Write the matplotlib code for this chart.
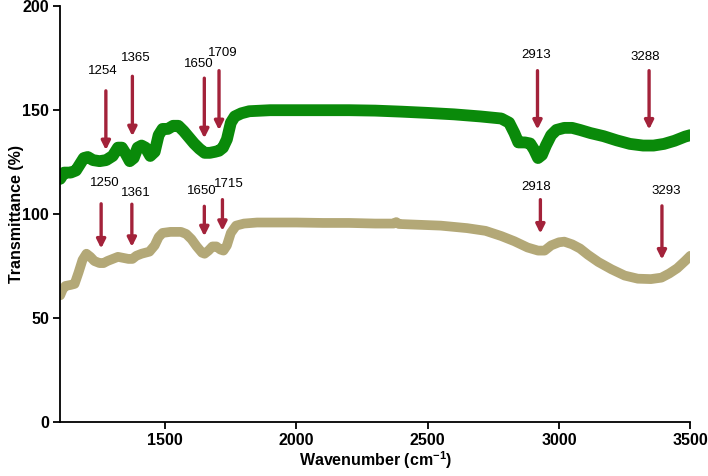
import matplotlib.pyplot as plt

# green spectrum (upper)
green_x = [1100, 1115, 1140, 1160, 1175, 1190, 1205, 1225, 1250, 1275, 1300, 1320, 1335, 1350, 1365,
           1380, 1395, 1410, 1425, 1443, 1460, 1475, 1490, 1510, 1530, 1550, 1570, 1590, 1610, 1630,
           1650, 1670, 1690, 1705, 1720, 1735, 1750, 1765, 1790, 1820, 1900, 2000, 2100, 2200, 2300,
           2400, 2500, 2600, 2700, 2780, 2810, 2830, 2845, 2870, 2890, 2905, 2920, 2935, 2950, 2970,
           2990, 3020, 3050, 3080, 3120, 3170, 3220, 3270, 3320, 3360, 3400, 3440, 3480, 3500]
green_y = [117, 120, 120, 121, 124, 127, 127.5, 126, 125.5, 126, 128, 132, 132, 129, 125.5,
           127, 132, 133, 132, 128, 130, 138, 141, 141, 142.5, 142.5, 140, 137, 134, 131.5,
           129.5, 129.5, 130, 130.5, 132, 136, 144, 147, 148.5, 149.5, 150, 150, 150, 150, 149.8,
           149.3, 148.7, 148, 147, 146, 144, 139, 134.5, 134.5, 134, 131, 127, 128.5, 133, 138,
           140.5, 141.5, 141.5, 140.5, 139, 137.5, 135.5, 133.8, 133, 133, 133.8, 135.3, 137.3, 138]

# khaki spectrum (lower)
khaki_x = [1100, 1110, 1120, 1140, 1155, 1170, 1185, 1200, 1215, 1230, 1250, 1265, 1280, 1300, 1320,
           1340, 1360, 1375, 1390, 1410, 1440, 1460, 1475, 1490, 1520, 1560, 1580, 1600, 1620, 1640,
           1650, 1665, 1680, 1695, 1710, 1722, 1735, 1750, 1770, 1800, 1850, 2000, 2100, 2200, 2300,
           2370, 2380, 2390, 2450, 2550, 2650, 2720, 2780, 2830, 2880, 2920, 2945, 2970, 3000, 3020,
           3050, 3080, 3110, 3150, 3200, 3250, 3300, 3350, 3390, 3420, 3450, 3480, 3500]
khaki_y = [61, 64, 65.5, 66, 66.5, 72, 78, 81, 79.5, 77.5, 76.5, 76.5, 77.5, 78.5, 79.5,
           79, 78.5, 78.5, 80, 81, 82, 85, 89, 91, 91.5, 91.5, 90.5, 88, 84.5, 81.5,
           81, 82.5, 84.5, 84.5, 83, 82.5, 85, 91, 94.5, 95.5, 96, 96, 95.8, 95.8, 95.5,
           95.5, 96.2, 95.3, 95, 94.5, 93.3, 92, 89.5, 87, 84, 82.5, 82.5, 85, 86.5, 86.8,
           85.5, 83.5, 80.5, 77, 73.5, 70.5, 69, 68.8, 69.5, 71.5, 74, 77.5, 80]

# peak labels: text, label x, label y, arrow x, arrow top y, arrow tip y
peak_text = ['1254', '1365', '1650', '1709', '2913', '3288',
             '1250', '1361', '1650', '1715', '2918', '3293']
label_x = [1264, 1388, 1626, 1721, 2912, 3329,
           1268, 1388, 1640, 1741, 2912, 3407]
label_y = [168.8, 175.3, 172, 177.4, 176.4, 175.6,
           114.8, 110, 111.2, 114.4, 113, 111]
arrow_x = [1274, 1375, 1649, 1705, 2918, 3343,
           1256, 1373, 1649, 1718, 2929, 3392]
arrow_top = [159.3, 166.3, 165.4, 169, 169, 169,
             105, 104.8, 103.8, 107, 107, 104]
arrow_tip = [130.8, 137.5, 136.5, 140.4, 140.7, 140.7,
             83.5, 84.3, 89.4, 92, 90.7, 78.2]

plt.rcParams['font.family'] = ['Liberation Sans', 'DejaVu Sans']
plt.rcParams['mathtext.fontset'] = 'custom'
plt.rcParams['mathtext.bf'] = 'Liberation Sans:bold'

fig = plt.figure(figsize=(7.08, 4.76), dpi=100)
ax = fig.add_axes([0.085, 0.113, 0.89, 0.874])

ax.plot(green_x, green_y, color='#0a8a0a', lw=8.5, solid_joinstyle='round', solid_capstyle='round')
ax.plot(khaki_x, khaki_y, color='#b3a877', lw=7, solid_joinstyle='round', solid_capstyle='round')

for t, lx, ly, axx, top, tip in zip(peak_text, label_x, label_y, arrow_x, arrow_top, arrow_tip):
    ax.annotate('', xy=(axx, tip), xytext=(axx, top),
                arrowprops=dict(arrowstyle='-|>', color='#a3223a', lw=2.4,
                                mutation_scale=13, shrinkA=0, shrinkB=0))
    ax.text(lx, ly, t, ha='center', va='center', fontsize=9.5)

ax.set_xlim(1100, 3500)
ax.set_ylim(0, 200)
ax.set_xticks([1500, 2000, 2500, 3000, 3500])
ax.set_yticks([0, 50, 100, 150, 200])
ax.spines['top'].set_visible(False)
ax.spines['right'].set_visible(False)
ax.spines['left'].set_linewidth(1.3)
ax.spines['bottom'].set_linewidth(1.3)
ax.tick_params(direction='out', length=5, width=1.3, labelsize=11.5, pad=3)
for lab in ax.get_xticklabels() + ax.get_yticklabels():
    lab.set_fontweight('bold')
ax.set_xlabel('Wavenumber (cm$^{\\mathbf{-1}}$)', fontsize=11.5, fontweight='bold')
ax.set_ylabel('Transmittance (%)', fontsize=11.5, fontweight='bold')
ax.xaxis.set_label_coords(0.5, -0.066)
ax.yaxis.set_label_coords(-0.058, 0.5)

fig.savefig('out.png', dpi=100)
